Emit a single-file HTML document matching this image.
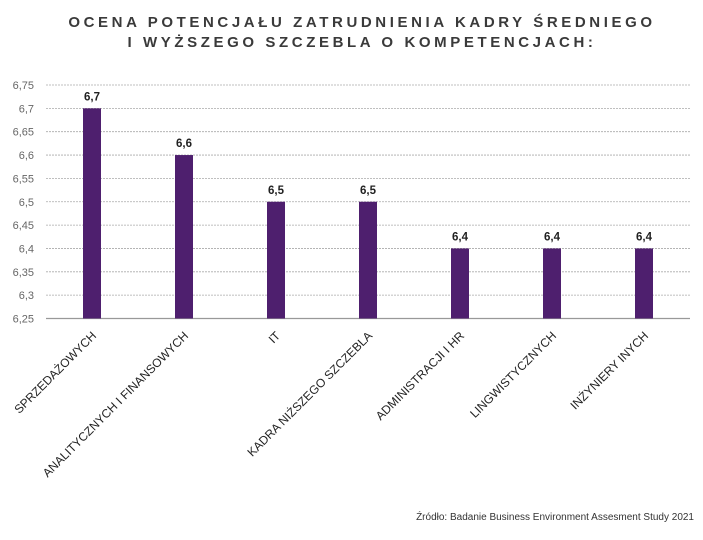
<!DOCTYPE html>
<html><head><meta charset="utf-8"><style>
body{margin:0;background:#fff;width:703px;height:535px;overflow:hidden}
svg text{font-family:"Liberation Sans",sans-serif}
</style></head><body>
<svg id="c" width="703" height="535">
<text x="362" y="27" text-anchor="middle" font-size="15" font-weight="bold" letter-spacing="3.6" fill="#3a3a3a">OCENA POTENCJAŁU ZATRUDNIENIA KADRY ŚREDNIEGO</text>
<text x="362" y="47" text-anchor="middle" font-size="15" font-weight="bold" letter-spacing="3.6" fill="#3a3a3a">I WYŻSZEGO SZCZEBLA O KOMPETENCJACH:</text>
<g id="grid"></g><g id="bars"></g><g id="xl"></g>
<text x="694" y="520" text-anchor="end" font-size="10" fill="#333">Źródło: Badanie Business Environment Assesment Study 2021</text>
</svg>
<script>
const categories=["SPRZEDAŻOWYCH","ANALITYCZNYCH I FINANSOWYCH","IT","KADRA NIŻSZEGO SZCZEBLA","ADMINISTRACJI I HR","LINGWISTYCZNYCH","INŻYNIERY INYCH"];
const values=[6.7,6.6,6.5,6.5,6.4,6.4,6.4];
const valueLabels=["6,7","6,6","6,5","6,5","6,4","6,4","6,4"];
const ticks=[6.25,6.3,6.35,6.4,6.45,6.5,6.55,6.6,6.65,6.7,6.75];
const yMin=6.25,yMax=6.75,plotTop=85,plotBot=318.5,plotLeft=46,plotRight=690;
const yS=v=>plotBot-(v-yMin)/(yMax-yMin)*(plotBot-plotTop);
const bw=(plotRight-plotLeft)/categories.length;
const xS=i=>plotLeft+bw*(i+0.5);
const NS="http://www.w3.org/2000/svg";
function mk(t,a,p){const e=document.createElementNS(NS,t);for(const k in a)e.setAttribute(k,a[k]);p.appendChild(e);return e;}
const g=document.getElementById('grid');
ticks.forEach((t,i)=>{
 const l=mk('line',{x1:plotLeft,x2:plotRight,y1:yS(t),y2:yS(t),stroke:i==0?'#999':'#aaa','stroke-width':i==0?1.2:0.8,'stroke-dasharray':i==0?'none':'2,1'},g);
 
 
 const tx=mk('text',{x:34,y:yS(t)+4,'text-anchor':'end','font-size':11,fill:'#666'},g);
 tx.textContent=String(t).replace('.',',');
 
 
});
const b=document.getElementById('bars'),xl=document.getElementById('xl');
values.forEach((v,i)=>{
 const r=mk('rect',{x:xS(i)-9,y:yS(v),width:18,height:plotBot-yS(v),fill:'#4e1f6e'},b);
 
 
 const t=mk('text',{x:xS(i),y:yS(v)-8,'text-anchor':'middle','font-size':11.5,'font-weight':'bold',fill:'#222'},b);
 t.textContent=valueLabels[i];
 
 
 const c=mk('text',{x:0,y:0,'text-anchor':'end','font-size':12,fill:'#222',transform:`translate(${xS(i)+5},${plotBot+18}) rotate(-45)`},xl);
 c.textContent=categories[i];
 
 
});
</script>
</body></html>
